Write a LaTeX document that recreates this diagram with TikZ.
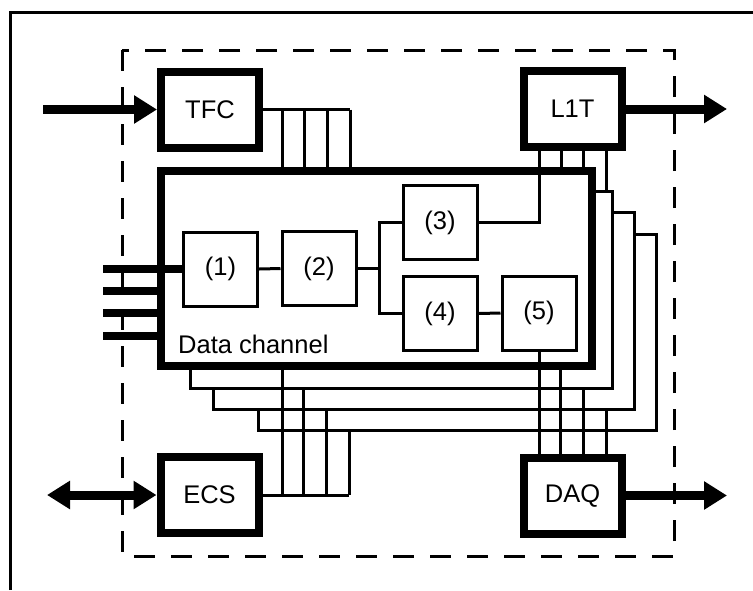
\documentclass[tikz,border=0pt]{standalone}
\usepackage{fontspec}
\setmainfont{Liberation Sans}
\usetikzlibrary{arrows.meta}
\begin{document}
\begin{tikzpicture}[x=1pt,y=-1pt,
  txt/.style={font=\fontsize{25.5}{30}\selectfont},
  unit/.style={draw, line width=8pt, fill=white, minimum width=98pt, minimum height=76pt, inner sep=0pt, txt},
  blk/.style={draw, line width=3pt, fill=white, minimum width=74pt, minimum height=74pt, inner sep=0pt, txt},
  shadowbox/.style={draw, line width=3pt, fill=white, inner sep=0pt},
  wire/.style={line width=3pt},
  inwire/.style={line width=8pt},
  bigarrow/.style={line width=9pt, -{Triangle[length=23pt,width=27pt]}},
  bigdarrow/.style={line width=9pt, {Triangle[length=23pt,width=27pt]}-{Triangle[length=23pt,width=27pt]}}
]
\useasboundingbox (0,0) rectangle (753,590);
% outer frame and dashed enclosure
\draw[line width=3pt] (10,590) -- (10,12) -- (753,12);
\draw[line width=3pt, dash pattern=on 21pt off 16pt] (122,50) rectangle (674,556);

% shadow copies of the data channel
\node[shadowbox, minimum width=398pt, minimum height=196pt] (s3) at (457,332) {};
\node[shadowbox, minimum width=421pt, minimum height=197pt] (s2) at (423.5,310.5) {};
\node[shadowbox, minimum width=422pt, minimum height=197pt] (s1) at (401,289.5) {};
% main data channel
\node[draw, line width=8pt, fill=white, minimum width=431pt, minimum height=195pt, inner sep=0pt] (main) at (376.5,268.5) {};
\node[txt, anchor=base west, inner sep=0pt] (dclabel) at (178,353) {Data channel};

% internal blocks
\node[blk] (n1) at (220.5,269) {(1)};
\node[blk] (n2) at (319,268.5) {(2)};
\node[blk] (n3) at (440,222.5) {(3)};
\node[blk] (n4) at (440,313.5) {(4)};
\node[blk] (n5) at (539,313) {(5)};
\coordinate (jn) at (379,268.5);
\draw[wire] (n1.east) -- (n2.west);
\draw[wire] (n2.east) -- (jn);
\draw[wire] (n3.west) -| (jn) |- (n4.west);
\draw[wire] (n4.east) -- (n5.west);

% outer units
\node[unit] (TFC) at (210,109.5) {TFC};
\node[unit] (L1T) at (572.5,109) {L1T};
\node[unit] (ECS) at (209.5,495) {ECS};
\node[unit] (DAQ) at (572.5,495.5) {DAQ};

% bus positions
\coordinate (xa1) at (282,0);
\coordinate (xa2) at (304,0);
\coordinate (xa3) at (327,0);
\coordinate (xa4) at (350,0);
\coordinate (xb1) at (539,0);
\coordinate (xb2) at (561,0);
\coordinate (xb3) at (583,0);
\coordinate (xb4) at (606,0);
\coordinate (xd2) at (560,0);
\coordinate (xd3) at (583,0);
\coordinate (xd4) at (606,0);
\coordinate (xc1) at (282,0);
\coordinate (xc2) at (303,0);
\coordinate (xc3) at (326,0);
\coordinate (xc4) at (349,0);

% TFC bus
\draw[wire] (TFC.east) -- (TFC.east -| xa4);
\foreach \i in {1,2,3,4} {
  \draw[wire] (TFC.east -| xa\i) -- (main.north -| xa\i);
}
% L1T bus
\draw[wire] (L1T.south -| xb1) |- (n3.east);
\draw[wire] (L1T.south -| xb2) -- (main.north -| xb2);
\draw[wire] (L1T.south -| xb3) -- (main.north -| xb3);
\draw[wire] (L1T.south -| xb4) -- (s1.north -| xb4);
% DAQ bus
\draw[wire] (n5.south) -- (n5.south |- DAQ.north);
\draw[wire] (main.south -| xd2) -- (DAQ.north -| xd2);
\draw[wire] (s1.south -| xd3) -- (DAQ.north -| xd3);
\draw[wire] (s2.south -| xd4) -- (DAQ.north -| xd4);
% ECS bus
\draw[wire] (ECS.east) -- (ECS.east -| xc4);
\draw[wire] (main.south -| xc1) -- (ECS.east -| xc1);
\draw[wire] (s1.south -| xc2) -- (ECS.east -| xc2);
\draw[wire] (s2.south -| xc3) -- (ECS.east -| xc3);
\draw[wire] (s3.south -| xc4) -- (ECS.east -| xc4);

% input lines
\coordinate (in1) at (103,269);
\coordinate (in2) at (103,291);
\coordinate (in3) at (103,313);
\coordinate (in4) at (103,336);
\draw[inwire] (in1) -- (n1.west);
\draw[inwire] (in2) -- (in2 -| main.west);
\draw[inwire] (in3) -- (in3 -| main.west);
\draw[inwire] (in4) -- (in4 -| main.west);

% external arrows
\coordinate (tfcsrc) at (43,109.5);
\coordinate (l1tdst) at (727,109);
\coordinate (ecsext) at (47,495);
\coordinate (daqdst) at (727,495.5);
\draw[bigarrow] (tfcsrc) -- (TFC.west);
\draw[bigarrow] (L1T.east) -- (l1tdst);
\draw[bigdarrow] (ecsext) -- (ECS.west);
\draw[bigarrow] (DAQ.east) -- (daqdst);
\end{tikzpicture}
\end{document}
